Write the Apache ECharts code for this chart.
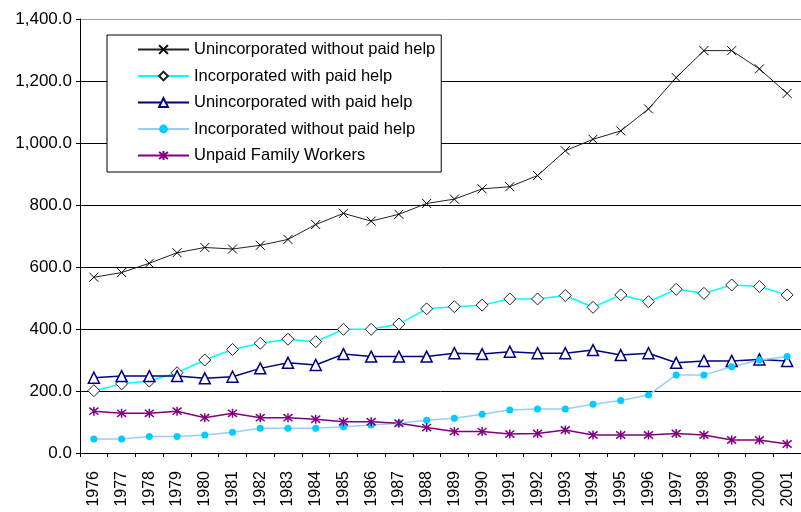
<!DOCTYPE html>
<html>
<head>
<meta charset="utf-8">
<title>Self-employment by class of worker, 1976-2001</title>
<script src="https://cdn.jsdelivr.net/npm/echarts@6/dist/echarts.min.js"></script>
<style>
  html, body { margin: 0; padding: 0; background: #fff; }
  #chart { width: 801px; height: 512px; }
</style>
</head>
<body>
<div id="chart"></div>
<script>
// Category axis: years
const years = ['1976','1977','1978','1979','1980','1981','1982','1983','1984','1985','1986','1987','1988',
  '1989','1990','1991','1992','1993','1994','1995','1996','1997','1998','1999','2000','2001'];

// Value axis ticks
const yTicks = [0, 200, 400, 600, 800, 1000, 1200, 1400];

// Series values (thousands)
const unincWithoutPaid = [567, 582, 612, 646, 663, 658, 670, 689, 737, 773, 748, 770, 805, 819, 852, 859,
  895, 975, 1012, 1039, 1110, 1211, 1298, 1298, 1239, 1160];
const incWithPaid = [201, 223, 232, 259, 300, 334, 354, 367, 359, 399, 399, 416, 465, 472, 477, 497,
  497, 508, 470, 510, 488, 528, 515, 542, 537, 510];
const unincWithPaid = [243, 248, 248, 248, 241, 246, 273, 291, 284, 319, 311, 311, 311, 322, 319, 327,
  322, 322, 332, 316, 322, 291, 297, 297, 302, 297];
const incWithoutPaid = [45, 45, 53, 53, 58, 67, 80, 80, 80, 85, 90, 96, 106, 112, 125, 139,
  142, 142, 157, 169, 187, 252, 252, 278, 300, 311];
const unpaidFamily = [135, 128, 128, 135, 114, 128, 114, 114, 109, 101, 101, 96, 82, 69, 69, 61,
  63, 74, 58, 58, 58, 63, 58, 42, 42, 29];

const FONT = 'Liberation Sans, Arial, sans-serif';
const crossPath = 'path://M0,0L10,10M10,0L0,10';
const starPath = 'path://M0,1L10,9M10,1L0,9M5,0L5,10';

const chart = echarts.init(document.getElementById('chart'), null, { renderer: 'canvas' });

chart.setOption({
  animation: false,
  backgroundColor: '#fff',
  grid: { left: 80, top: 19, right: -4, bottom: 59, containLabel: false },
  legend: {
    orient: 'vertical',
    left: 107,
    top: 35,
    padding: [6, 6, 8, 30],
    itemWidth: 51,
    itemHeight: 11,
    itemGap: 9.5,
    borderColor: '#000',
    borderWidth: 1,
    backgroundColor: '#fff',
    textStyle: { fontFamily: FONT, fontSize: 16.5, lineHeight: 16, color: '#000' },
    data: ['Unincorporated without paid help', 'Incorporated with paid help',
      'Unincorporated with paid help', 'Incorporated without paid help', 'Unpaid Family Workers']
  },
  xAxis: {
    type: 'category',
    data: years,
    boundaryGap: true,
    axisLine: { lineStyle: { color: '#000', width: 1 } },
    axisTick: { show: true, length: 4, inside: false, alignWithLabel: false, lineStyle: { color: '#000' } },
    axisLabel: {
      rotate: 90, margin: 18, interval: 0,
      fontFamily: FONT, fontSize: 16, color: '#000'
    },
    splitLine: { show: false }
  },
  yAxis: {
    type: 'value',
    min: yTicks[0],
    max: yTicks[yTicks.length - 1],
    interval: 200,
    axisLine: { show: true, lineStyle: { color: '#000', width: 1 } },
    axisTick: { show: true, length: 4, lineStyle: { color: '#000' } },
    axisLabel: {
      margin: 8, fontFamily: FONT, fontSize: 17, color: '#000',
      formatter: v => v.toLocaleString('en-US', { minimumFractionDigits: 1, maximumFractionDigits: 1 })
    },
    splitLine: {
      show: true,
      lineStyle: { color: ['#000', '#000', '#000', '#000', '#000', '#000', '#000', '#a0a0a0'], width: 1 }
    }
  },
  series: [
    {
      name: 'Unincorporated without paid help',
      type: 'line',
      data: unincWithoutPaid,
      symbol: crossPath,
      symbolSize: 9,
      showAllSymbol: true,
      lineStyle: { color: '#222', width: 1 },
      itemStyle: { color: 'rgba(0,0,0,0)', borderColor: '#000', borderWidth: 1 }
    },
    {
      name: 'Incorporated with paid help',
      type: 'line',
      data: incWithPaid,
      symbol: 'diamond',
      symbolSize: 12,
      showAllSymbol: true,
      lineStyle: { color: '#00ffff', width: 1.5 },
      itemStyle: { color: '#fff', borderColor: '#222', borderWidth: 1 }
    },
    {
      name: 'Unincorporated with paid help',
      type: 'line',
      data: unincWithPaid,
      symbol: 'triangle',
      symbolSize: 11,
      showAllSymbol: true,
      lineStyle: { color: '#000080', width: 1.5 },
      itemStyle: { color: '#fff', borderColor: '#000080', borderWidth: 1.5 }
    },
    {
      name: 'Incorporated without paid help',
      type: 'line',
      data: incWithoutPaid,
      symbol: 'circle',
      symbolSize: 7,
      showAllSymbol: true,
      lineStyle: { color: '#99ccff', width: 1.5 },
      itemStyle: { color: '#00ccff', borderColor: '#00ccff', borderWidth: 0 }
    },
    {
      name: 'Unpaid Family Workers',
      type: 'line',
      data: unpaidFamily,
      symbol: starPath,
      symbolSize: 9,
      showAllSymbol: true,
      lineStyle: { color: '#800080', width: 1.5 },
      itemStyle: { color: 'rgba(0,0,0,0)', borderColor: '#800080', borderWidth: 1.5 }
    }
  ]
});
</script>
</body>
</html>
